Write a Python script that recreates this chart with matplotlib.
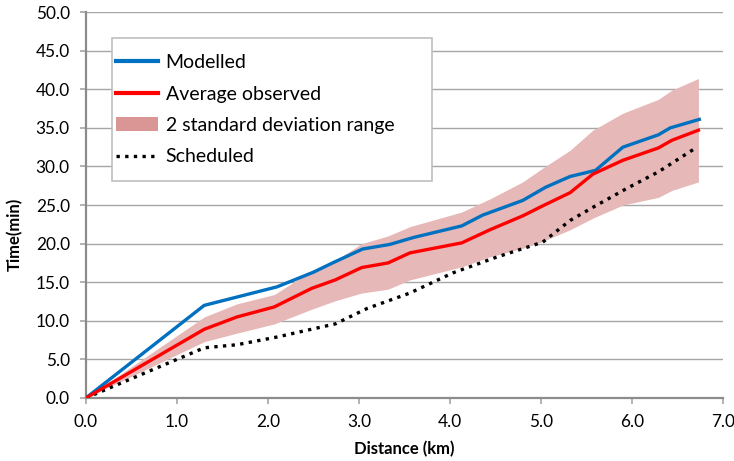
import matplotlib

matplotlib.use("Agg")
import matplotlib.pyplot as plt
from matplotlib.lines import Line2D
from matplotlib.patches import Patch, Rectangle

plt.rcParams["font.family"] = ["Lato", "DejaVu Sans"]

# Modelled travel time
model_km = [0, 1.3, 2.1, 2.5, 2.71, 3.04, 3.34, 3.6, 4.13, 4.36, 4.80, 5.05, 5.32, 5.60, 5.90, 6.29, 6.42, 6.74]
model_min = [0, 12.0, 14.4, 16.3, 17.5, 19.3, 19.9, 20.8, 22.3, 23.7, 25.6, 27.3, 28.7, 29.5, 32.5, 34.1, 35.0, 36.1]

# Observed: average and 2 sd range
obs_km = [0, 1.3, 1.66, 2.07, 2.48, 2.74, 3.03, 3.32, 3.56, 4.13, 4.44, 4.80, 5.02, 5.32, 5.57, 5.90, 6.29, 6.44, 6.73]
obs_avg = [0, 8.9, 10.5, 11.8, 14.2, 15.3, 16.9, 17.5, 18.8, 20.1, 21.8, 23.6, 24.9, 26.6, 29.0, 30.8, 32.4, 33.4, 34.7]
obs_upper = [0, 10.5, 12.2, 13.4, 16.5, 17.8, 20.0, 21.0, 22.2, 24.1, 25.8, 28.0, 29.8, 32.1, 34.7, 36.9, 38.7, 39.9, 41.4]
obs_lower = [0, 7.3, 8.4, 9.6, 11.5, 12.6, 13.6, 14.1, 15.3, 17.0, 18.3, 19.4, 20.3, 21.8, 23.3, 25.0, 26.0, 26.9, 28.0]

# Timetable
sched_km = [0, 1.3, 1.66, 2.1, 2.74, 3.09, 3.56, 4.03, 4.5, 5.02, 5.32, 5.57, 5.95, 6.29, 6.70]
sched_min = [0, 6.5, 6.9, 7.9, 9.6, 11.6, 13.6, 16.2, 18.2, 20.2, 23.0, 24.7, 27.2, 29.3, 32.4]

BLUE = "#0070C0"
RED = "#FF0000"
BAND = "#E6B8B7"
BAND_LEGEND = "#D99694"
GRID = "#A6A6A6"
DOTS = (0, (1, 1.6))

fig = plt.figure(figsize=(7.34, 4.61), dpi=100)
ax = fig.add_axes([0.117, 0.1367, 0.868, 0.837])

ax.fill_between(obs_km, obs_lower, obs_upper, color=BAND, linewidth=0, zorder=2)
ax.plot(model_km, model_min, color=BLUE, lw=2.4, zorder=4)
ax.plot(obs_km, obs_avg, color=RED, lw=2.4, zorder=4)
ax.plot(sched_km, sched_min, color="black", lw=2.4, linestyle=DOTS, zorder=3)

ax.set_xlim(0, 7)
ax.set_ylim(0, 50)
ax.set_xticks([i for i in range(8)])
ax.set_xticklabels([f"{i:.1f}" for i in range(8)])
ax.set_yticks([i * 5 for i in range(11)])
ax.set_yticklabels([f"{i * 5:.1f}" for i in range(11)])
ax.tick_params(axis="both", labelsize=12.4, color=GRID, length=4.5, width=1.2, pad=7)
ax.grid(axis="y", color=GRID, lw=1.0)
ax.set_axisbelow(True)
for side in ["top", "right"]:
    ax.spines[side].set_visible(False)
for side in ["left", "bottom"]:
    ax.spines[side].set_color("#8C8C8C")
    ax.spines[side].set_linewidth(1.6)

ax.set_xlabel("Distance (km)", fontsize=12, fontweight="bold")
ax.set_ylabel("Time(min)", fontsize=12, fontweight="bold")
ax.xaxis.set_label_coords(0.5, -0.112)
ax.yaxis.set_label_coords(-0.099, 0.425)

# legend frame drawn separately to match the original's uneven padding
frame = Rectangle((0.0408, 0.562), 0.502, 0.370, transform=ax.transAxes,
                  facecolor="white", edgecolor="#BFBFBF", lw=1.2, zorder=5)
ax.add_patch(frame)

handles = [
    Line2D([], [], color=BLUE, lw=3),
    Line2D([], [], color=RED, lw=3),
    Patch(facecolor=BAND_LEGEND, edgecolor="none"),
    Line2D([], [], color="black", lw=2.4, linestyle=DOTS),
]
labels = ["Modelled", "Average observed", "2 standard deviation range", "Scheduled"]
leg = ax.legend(
    handles, labels, loc="upper left", bbox_to_anchor=(0.047, 0.891),
    borderaxespad=0, borderpad=0, fontsize=14, frameon=False,
    handlelength=2.15, handletextpad=0.41, labelspacing=0.74,
)
leg.set_zorder(6)

fig.savefig("out.png", dpi=100)
